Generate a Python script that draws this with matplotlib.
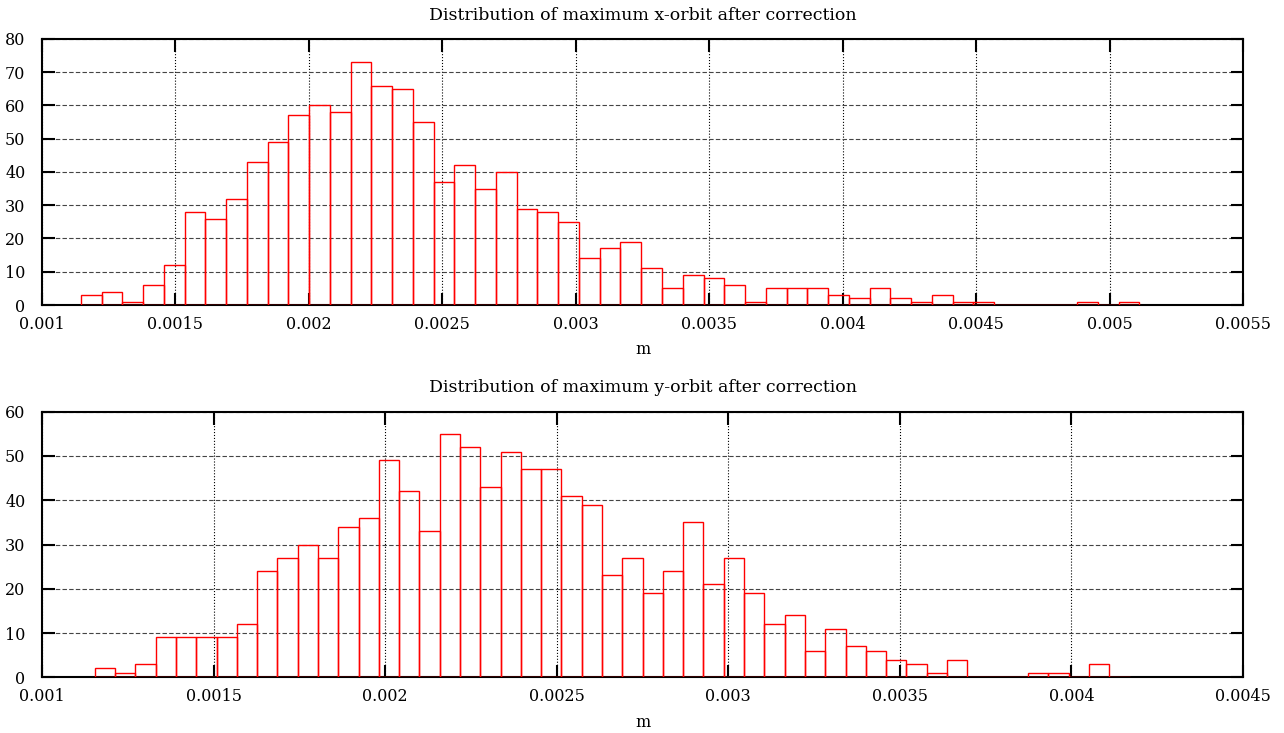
import numpy as np
import matplotlib
matplotlib.use('Agg')
import matplotlib.pyplot as plt
from matplotlib.ticker import FormatStrFormatter, MultipleLocator

# Histogram counts (51 bins each)
x_counts = [3, 4, 1, 6, 12, 28, 26, 32, 43, 49, 57, 60, 58, 73, 66, 65, 55, 37, 42, 35,
            40, 29, 28, 25, 14, 17, 19, 11, 5, 9, 8, 6, 1, 5, 5, 5, 3, 2, 5, 2,
            1, 3, 1, 1, 0, 0, 0, 0, 1, 0, 1]
x_bin_start = 0.0011454
x_bin_width = 0.00007777

y_counts = [2, 1, 3, 9, 9, 9, 9, 12, 24, 27, 30, 27, 34, 36, 49, 42, 33, 55, 52, 43,
            51, 47, 47, 41, 39, 23, 27, 19, 24, 35, 21, 27, 19, 12, 14, 6, 11, 7, 6, 4,
            3, 1, 4, 0, 0, 0, 1, 1, 0, 3, 0]
y_bin_start = 0.0011541
y_bin_width = 0.00005912

titles = ['Distribution of maximum x-orbit after correction',
          'Distribution of maximum y-orbit after correction']
xlims = [(0.001, 0.0055), (0.001, 0.0045)]
ylims = [(0, 80), (0, 60)]

plt.rcParams['font.family'] = ['DejaVu Serif', 'Liberation Serif']
plt.rcParams['font.size'] = 11

fig = plt.figure(figsize=(12.84, 7.33), dpi=100)
ax1 = fig.add_axes([0.0327, 0.5839, 0.9354, 0.3629])
ax2 = fig.add_axes([0.0327, 0.0760, 0.9354, 0.3623])

data = [(x_counts, x_bin_start, x_bin_width), (y_counts, y_bin_start, y_bin_width)]

for ax, (counts, start, width), title, xl, yl in zip([ax1, ax2], data, titles, xlims, ylims):
    lefts = start + width * np.arange(len(counts))
    ax.bar(lefts, counts, width=width, align='edge', fill=False,
           edgecolor='red', linewidth=1.0, zorder=3)
    ax.set_xlim(*xl)
    ax.set_ylim(*yl)
    ax.xaxis.set_major_locator(MultipleLocator(0.0005))
    ax.xaxis.set_major_formatter(FormatStrFormatter('%g'))
    ax.yaxis.set_major_locator(MultipleLocator(10))
    ax.xaxis.grid(True, linestyle=':', color='black', linewidth=0.8)
    ax.yaxis.grid(True, linestyle=(0, (4, 2)), color='#444444', linewidth=0.8)
    ax.set_axisbelow(True)
    ax.tick_params(direction='in', length=9, width=1.5, top=True, right=True,
                   labelsize=11.5)
    ax.tick_params(axis='x', pad=8)
    ax.tick_params(axis='y', pad=12)
    for sp in ax.spines.values():
        sp.set_linewidth(1.5)
    ax.set_title(title, fontsize=12.5, pad=14)
    ax.set_xlabel('m', fontsize=11.5, labelpad=6)

fig.savefig('out.png', dpi=100)
